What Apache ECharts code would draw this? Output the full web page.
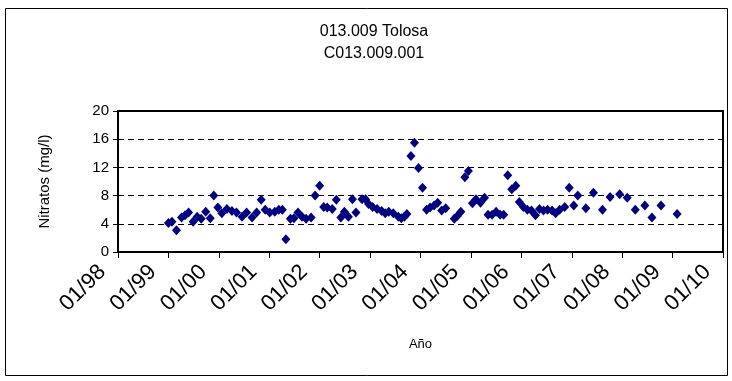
<!DOCTYPE html>
<html>
<head>
<meta charset="utf-8">
<script src="https://cdn.jsdelivr.net/npm/echarts@6/dist/echarts.min.js"></script>
<style>
  html, body { margin: 0; padding: 0; background: #fff; }
  #main { width: 732px; height: 381px; }
</style>
</head>
<body>
<div id="main"></div>
<script>
// fechas de muestreo en años decimales
const fechas = [
  1999.00, 1999.07, 1999.16, 1999.26, 1999.33, 1999.40, 1999.49, 1999.57, 1999.65, 1999.74,
  1999.83, 1999.90, 1999.98, 2000.06, 2000.16, 2000.26, 2000.35, 2000.46, 2000.55, 2000.66,
  2000.75, 2000.84, 2000.92, 2001.01, 2001.11, 2001.19, 2001.26, 2001.33, 2001.42, 2001.49,
  2001.57, 2001.65, 2001.73, 2001.83, 2001.91, 2002.00, 2002.08, 2002.15, 2002.25, 2002.33,
  2002.42, 2002.49, 2002.57, 2002.65, 2002.72, 2002.84, 2002.91, 2002.97, 2003.05, 2003.14,
  2003.23, 2003.30, 2003.37, 2003.46, 2003.56, 2003.62, 2003.68, 2003.73, 2003.81, 2003.88,
  2003.96, 2004.04, 2004.12, 2004.19, 2004.27, 2004.34, 2004.42, 2004.50, 2004.67, 2004.73,
  2004.80, 2004.88, 2004.95, 2005.03, 2005.10, 2005.19, 2005.27, 2005.34, 2005.42, 2005.50,
  2005.58, 2005.65, 2005.73, 2005.81, 2005.89, 2005.96, 2006.04, 2006.12, 2006.20, 2006.28,
  2006.36, 2006.44, 2006.52, 2006.61, 2006.68, 2006.76, 2006.86, 2006.95, 2007.04, 2007.12,
  2007.28, 2007.43, 2007.61, 2007.76, 2007.95, 2008.10, 2008.26, 2008.45, 2008.59, 2008.77,
  2009.09
];
const nitratos = [
  4.1, 4.3, 3.1, 4.9, 5.2, 5.6, 4.3, 5.0, 4.7, 5.7,
  4.8, 8.0, 6.3, 5.5, 6.1, 5.8, 5.6, 5.0, 5.6, 4.9,
  5.6, 7.4, 6.0, 5.6, 5.7, 6.0, 6.0, 1.8, 4.7, 4.8,
  5.6, 5.0, 4.7, 4.9, 8.0, 9.4, 6.4, 6.3, 6.1, 7.4,
  4.9, 5.7, 5.0, 7.5, 5.6, 7.5, 7.5, 6.8, 6.4, 6.1,
  5.8, 5.5, 5.7, 5.5, 5.0, 4.8, 5.0, 5.4, 13.6, 15.5,
  11.9, 9.1, 6.0, 6.3, 6.6, 7.0, 5.9, 6.2, 4.7, 5.1,
  5.7, 10.6, 11.5, 6.9, 7.5, 7.0, 7.7, 5.3, 5.3, 5.7,
  5.3, 5.3, 10.9, 8.9, 9.4, 7.1, 6.4, 6.0, 5.9, 5.2,
  6.1, 5.9, 6.0, 5.9, 5.5, 6.0, 6.4, 9.1, 6.6, 8.0,
  6.2, 8.4, 6.0, 7.8, 8.2, 7.7, 6.0, 6.6, 4.9, 6.6,
  5.4
];
const yTicks = [0, 4, 8, 12, 16, 20];

let myChart = echarts.init(document.getElementById('main'));
myChart.setOption({
  animation: false,
  textStyle: { fontFamily: 'Liberation Sans, Arial, sans-serif' },
  title: {
    text: '013.009 Tolosa\nC013.009.001',
    left: 369,
    top: 16,
    textAlign: 'center',
    textStyle: { fontSize: 16, fontWeight: 'normal', color: '#000', lineHeight: 22 }
  },
  graphic: [{
    type: 'rect',
    shape: { x: 5.5, y: 8.5, width: 722, height: 367 },
    style: { fill: 'none', stroke: '#000', lineWidth: 1 },
    silent: true
  }],
  grid: {
    left: 118,
    right: 9,
    top: 111,
    bottom: 129,
    show: true,
    borderColor: '#000',
    borderWidth: 2
  },
  xAxis: {
    type: 'value',
    min: 1998,
    max: 2010,
    interval: 1,
    name: 'Año',
    nameLocation: 'middle',
    nameGap: 86,
    nameTextStyle: { fontSize: 13, color: '#000' },
    axisLine: { show: true, onZero: false, lineStyle: { color: '#000', width: 2 } },
    axisTick: { show: true, inside: false, length: 6, lineStyle: { color: '#000' } },
    axisLabel: {
      rotate: 45,
      fontSize: 22,
      color: '#000',
      margin: 1,
      padding: [0, 22, 0, 0],
      formatter: (v) => '01/' + String(v % 100).padStart(2, '0')
    },
    splitLine: { show: false }
  },
  yAxis: {
    type: 'value',
    min: yTicks[0],
    max: yTicks[yTicks.length - 1],
    interval: 4,
    name: 'Nitratos (mg/l)',
    nameLocation: 'middle',
    nameGap: 66,
    nameTextStyle: { fontSize: 15, color: '#000' },
    axisLine: { show: true, lineStyle: { color: '#000', width: 2 } },
    axisTick: { show: true, length: 5, lineStyle: { color: '#000' } },
    axisLabel: { fontSize: 15, color: '#000', margin: 9 },
    splitLine: {
      show: true,
      lineStyle: { color: '#000', width: 1, type: [6, 4] }
    }
  },
  series: [{
    type: 'scatter',
    symbol: 'diamond',
    symbolSize: [9, 10],
    itemStyle: { color: '#000080', opacity: 1 },
    data: fechas.map((f, i) => [f, nitratos[i]])
  }]
});
</script>
</body>
</html>
